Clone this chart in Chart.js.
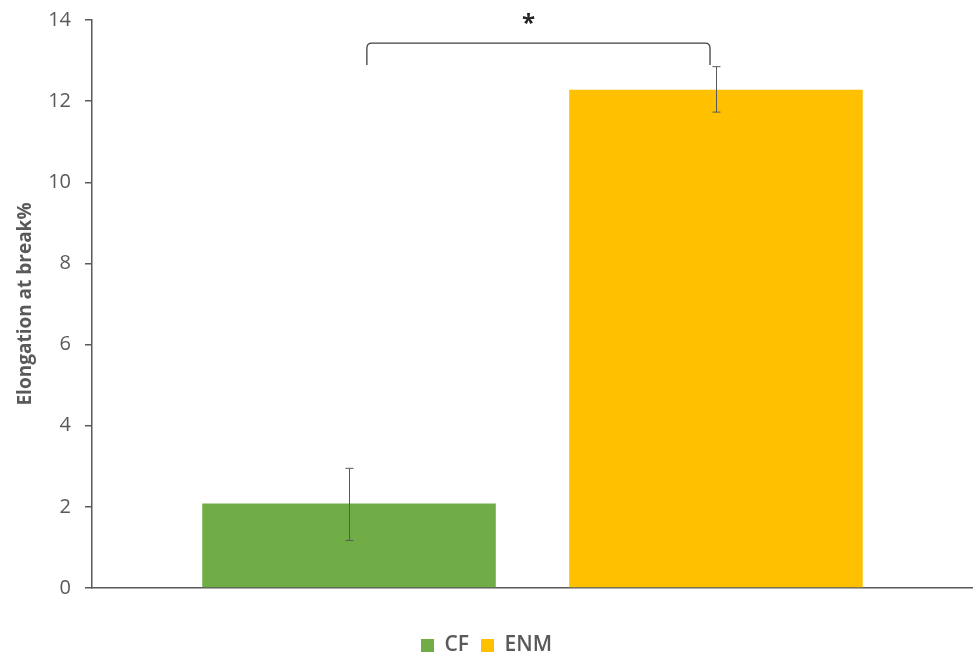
<!DOCTYPE html>
<html>
<head>
<meta charset="utf-8">
<script src="https://cdn.jsdelivr.net/npm/chart.js@4.4.1/dist/chart.umd.min.js"></script>
<style>
  html, body { margin: 0; padding: 0; background: #fff; }
  #wrap { width: 973px; height: 658px; }
</style>
</head>
<body>
<div id="wrap"><canvas id="chart"></canvas></div>
<script>
// chart data
const seriesNames = ['CF', 'ENM'];
const seriesValues = [2.08, 12.28];
const errLow = [1.17, 11.73];
const errHigh = [2.95, 12.85];
const seriesColors = ['#70AD47', '#FFC000'];
const yTicks = [0, 2, 4, 6, 8, 10, 12, 14];
// significance bracket (y in data units)
const bracketTop = 13.43;
const bracketFoot = 12.89;
const bracketLabel = '*';

const axisGray = '#595959';

const errorBars = {
    id: 'errorBars',
    afterDatasetsDraw(chart) {
        const ctx = chart.ctx;
        const y = chart.scales.y;
        ctx.save();
        ctx.strokeStyle = axisGray;
        ctx.lineWidth = 1;
        chart.data.datasets.forEach(function(ds, i) {
            const bar = chart.getDatasetMeta(i).data[0];
            const x = Math.round(bar.x) + 0.5;
            const yl = y.getPixelForValue(errLow[i]);
            const yh = y.getPixelForValue(errHigh[i]);
            ctx.beginPath();
            ctx.moveTo(x, yl); ctx.lineTo(x, yh);
            ctx.moveTo(x - 4, yl); ctx.lineTo(x + 4, yl);
            ctx.moveTo(x - 4, yh); ctx.lineTo(x + 4, yh);
            ctx.stroke();
        });
        ctx.restore();
    }
};

const bracket = {
    id: 'bracket',
    afterDraw(chart) {
        const ctx = chart.ctx;
        const y = chart.scales.y;
        const a = chart.chartArea;
        const w = a.right - a.left;
        const x1 = a.left + 0.312 * w;
        const x2 = a.left + 0.7015 * w;
        const yt = y.getPixelForValue(bracketTop);
        const yb = y.getPixelForValue(bracketFoot);
        const r = 5;
        ctx.save();
        ctx.strokeStyle = '#404040';
        ctx.lineWidth = 1.3;
        ctx.beginPath();
        ctx.moveTo(x1, yb);
        ctx.lineTo(x1, yt + r);
        ctx.quadraticCurveTo(x1, yt, x1 + r, yt);
        ctx.lineTo(x2 - r, yt);
        ctx.quadraticCurveTo(x2, yt, x2, yt + r);
        ctx.lineTo(x2, yb);
        ctx.stroke();
        ctx.fillStyle = '#262626';
        ctx.font = 'bold 24px "Open Sans"';
        ctx.textAlign = 'center';
        ctx.textBaseline = 'middle';
        ctx.fillText(bracketLabel, (x1 + x2) / 2 - 10, yt - 19);
        ctx.restore();
    }
};

new Chart(document.getElementById('chart').getContext('2d'), {
    type: 'bar',
    data: {
        labels: [''],
        datasets: seriesNames.map(function(name, i) {
            return {
                label: name,
                data: [seriesValues[i]],
                backgroundColor: seriesColors[i],
                borderWidth: 0,
                categoryPercentage: 0.833,
                barPercentage: 0.8
            };
        })
    },
    options: {
        responsive: true,
        maintainAspectRatio: false,
        animation: false,
        layout: { padding: { top: 20, right: 0, bottom: -8, left: 0 } },
        plugins: {
            tooltip: { enabled: false },
            legend: {
                position: 'bottom',
                labels: {
                    boxWidth: 13,
                    boxHeight: 13,
                    padding: 12,
                    color: axisGray,
                    font: { family: 'Open Sans', size: 21, weight: '600' }
                }
            }
        },
        scales: {
            x: {
                grid: { display: false },
                ticks: { display: false },
                border: { display: true, color: axisGray, width: 1.5 },
                afterFit: function(s) { s.height = 35; }
            },
            y: {
                min: 0,
                max: 14,
                afterBuildTicks: function(s) { s.ticks = yTicks.map(v => ({ value: v })); },
                afterFit: function(s) { s.width = 92; s.paddingTop = 0; s.paddingBottom = 0; },
                grid: { drawOnChartArea: false, tickLength: 7, color: axisGray, lineWidth: 1.5 },
                border: { display: true, color: axisGray, width: 1.5 },
                ticks: {
                    padding: 14,
                    color: axisGray,
                    font: { family: 'Open Sans', size: 20 }
                },
                title: {
                    display: true,
                    text: 'Elongation at break%',
                    color: axisGray,
                    padding: { top: 14, bottom: 0 },
                    font: { family: 'Open Sans', size: 19, weight: 'bold' }
                }
            }
        }
    },
    plugins: [errorBars, bracket]
});
</script>
</body>
</html>
